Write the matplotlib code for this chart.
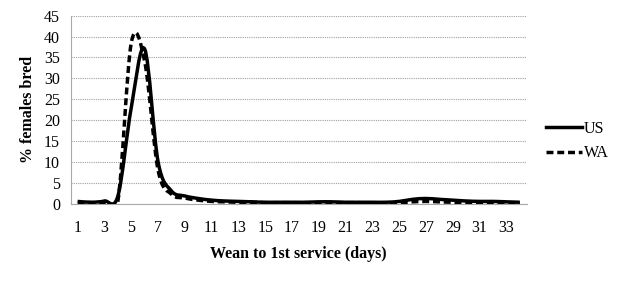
import numpy as np
import matplotlib
matplotlib.use("Agg")
import matplotlib.pyplot as plt
from matplotlib.path import Path
from matplotlib.patches import PathPatch

days = list(range(1, 35))
us = [0.5, 0.3, 0.6, 1.8, 23.0, 37.0, 10.0, 3.0, 1.8, 1.2, 0.8, 0.6, 0.5, 0.4, 0.3, 0.3, 0.3, 0.3, 0.4, 0.4,
      0.3, 0.3, 0.3, 0.3, 0.5, 1.0, 1.2, 1.0, 0.8, 0.6, 0.5, 0.5, 0.4, 0.3]
wa = [0.3, 0.2, 0.2, 0.6, 38.5, 34.0, 8.0, 2.2, 1.3, 0.8, 0.5, 0.4, 0.3, 0.3, 0.2, 0.2, 0.2, 0.2, 0.2, 0.2,
      0.2, 0.2, 0.1, 0.1, 0.2, 0.4, 0.5, 0.4, 0.3, 0.2, 0.2, 0.2, 0.1, 0.1]
series_names = ["US", "WA"]
yticks = list(range(0, 50, 5))
xticks = list(range(1, 35, 2))

plt.rcParams['font.family'] = ['Liberation Serif', 'DejaVu Serif']

fig = plt.figure(figsize=(6.24, 2.81), dpi=100)
ax = fig.add_axes([71/624, 1 - 203.5/281, (526.5 - 71)/624, (203.5 - 15.7)/281])


def smooth_path(x, y, tension=1/6):
    x = np.asarray(x, float); y = np.asarray(y, float)
    verts = [(x[0], y[0])]
    codes = [Path.MOVETO]
    n = len(x)
    for i in range(n - 1):
        p0 = (x[max(i - 1, 0)], y[max(i - 1, 0)])
        p1 = (x[i], y[i]); p2 = (x[i + 1], y[i + 1])
        p3 = (x[min(i + 2, n - 1)], y[min(i + 2, n - 1)])
        c1 = (p1[0] + (p2[0] - p0[0]) * tension, p1[1] + (p2[1] - p0[1]) * tension)
        c2 = (p2[0] - (p3[0] - p1[0]) * tension, p2[1] - (p3[1] - p1[1]) * tension)
        verts += [c1, c2, p2]
        codes += [Path.CURVE4] * 3
    return Path(verts, codes)


lw = 2.5
dash = (0, (2.0, 1.1))
ax.add_patch(PathPatch(smooth_path(days, us), fill=False, lw=lw, color='black', capstyle='butt', zorder=3))
ax.add_patch(PathPatch(smooth_path(days, wa), fill=False, lw=lw, color='black', linestyle=dash,
                       capstyle='butt', zorder=3))

ax.set_xlim(0.5, 34.5)
ax.set_ylim(0, 45)
ax.set_yticks(yticks)
ax.set_xticks(xticks)
ax.tick_params(length=0, labelsize=11.5)
ax.tick_params(axis='y', pad=8)
ax.tick_params(axis='x', pad=12)
ax.grid(axis='y', color='#a0a0a0', linestyle=(0, (1, 1)), lw=0.8)
ax.set_axisbelow(True)
for s in ['top', 'right']:
    ax.spines[s].set_visible(False)
for s in ['left', 'bottom']:
    ax.spines[s].set_color('#a8a8a8')
    ax.spines[s].set_linewidth(0.8)

ax.set_ylabel('% females bred', fontsize=11.5, fontweight='bold', labelpad=6)
ax.set_xlabel('Wean to 1st service (days)', fontsize=11.5, fontweight='bold', labelpad=7)

h1, = ax.plot([], [], color='black', lw=lw, label=series_names[0])
h2, = ax.plot([], [], color='black', lw=lw, linestyle=dash, label=series_names[1])
fig.legend(handles=[h1, h2], loc='center left', bbox_to_anchor=(546/624, 1 - 141/281), frameon=False,
           fontsize=11.5, handlelength=2.25, handletextpad=0.1, labelspacing=0.55, borderpad=0,
           borderaxespad=0)

fig.savefig('out.png', dpi=100)
